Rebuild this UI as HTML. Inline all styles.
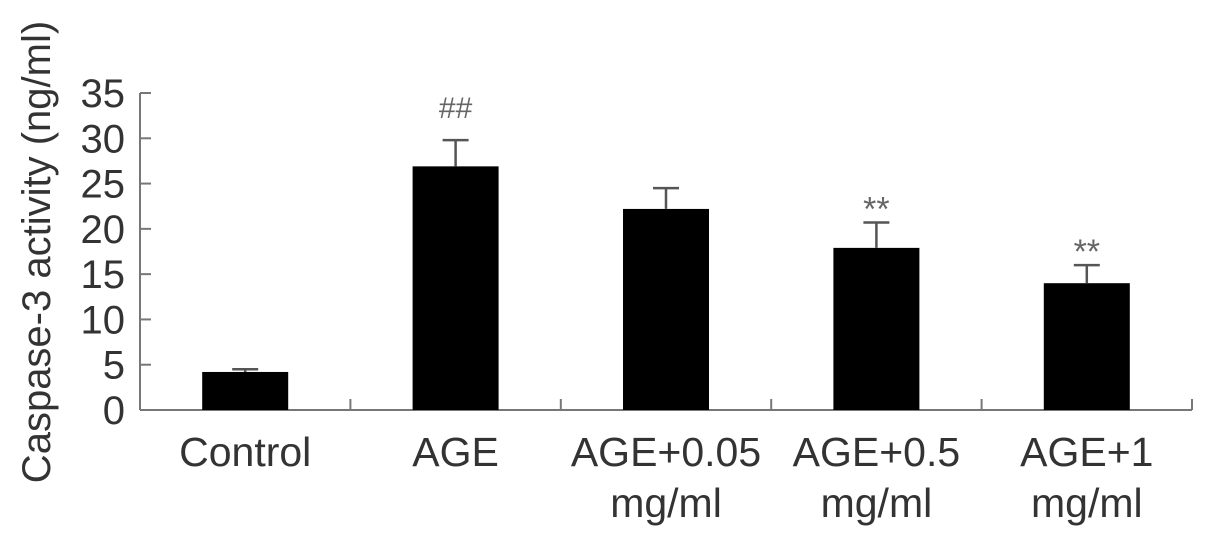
<!DOCTYPE html>
<html><head><meta charset="utf-8"><style>
body{margin:0;background:#fff}
svg text{font-family:"Liberation Sans",Arial,sans-serif;fill:#333}
</style></head><body>
<svg id="c" width="1205" height="535" xmlns="http://www.w3.org/2000/svg"></svg>
<script>
const categories=[["Control"],["AGE"],["AGE+0.05","mg/ml"],["AGE+0.5","mg/ml"],["AGE+1","mg/ml"]];
const values=[4.2,26.9,22.2,17.9,14.0];
const errors=[0.3,2.9,2.3,2.8,2.0];
const marks=["","##","","**","**"];
const yTicks=[0,5,10,15,20,25,30,35];
const NS="http://www.w3.org/2000/svg";
const svg=document.getElementById('c');
const x0=140,x1=1192,y0=410,yTop=93,yMax=35;
const bw=(x1-x0)/categories.length;
function y(v){return y0-(v/yMax)*(y0-yTop);}
function xc(i){return x0+bw*(i+0.5);}
function mk(t,a){const e=document.createElementNS(NS,t);for(const k in a)e.setAttribute(k,a[k]);svg.appendChild(e);return e;}
let e=mk('line',{x1:x0,y1:y0,x2:x0,y2:yTop,stroke:'#777','stroke-width':2});


e=mk('line',{x1:x0,y1:y0,x2:x1,y2:y0,stroke:'#777','stroke-width':2});


yTicks.forEach(v=>{
 const t=mk('line',{x1:x0,y1:y(v),x2:x0+11,y2:y(v),stroke:'#777','stroke-width':2});
 
 
 const l=mk('text',{x:125,y:y(v)+14,'font-size':40,'text-anchor':'end'});
 l.textContent=v;
 
 
});
for(let i=1;i<=categories.length;i++){
 const t=mk('line',{x1:x0+bw*i,y1:y0,x2:x0+bw*i,y2:y0-11,stroke:'#777','stroke-width':2});
 
 
}
categories.forEach((c,i)=>{
 const cx=xc(i);
 const b=mk('rect',{x:cx-43,y:y(values[i]),width:86,height:y0-y(values[i]),fill:'#000'});
 
 
 const et=y(values[i]+errors[i]);
 const g=mk('path',{d:`M${cx} ${y(values[i])}V${et}M${cx-13} ${et}H${cx+13}`,stroke:'#555','stroke-width':2.5,fill:'none'});
 
 
 if(marks[i]){
  const m=mk('text',{x:cx,y:et-(marks[i]=='##'?22:2),'font-size':marks[i]=='##'?30:34,'text-anchor':'middle',style:'fill:#666'});
  m.textContent=marks[i];
  
  
 }
 c.forEach((line,j)=>{
  const l=mk('text',{x:cx,y:466+j*51,'font-size':41,'text-anchor':'middle'});
  l.textContent=line;
  
  
 });
});
e=mk('text',{x:0,y:0,'font-size':40,'text-anchor':'middle',transform:'translate(50,252) rotate(-90)'});
e.textContent='Caspase-3 activity (ng/ml)';


</script>
</body></html>
